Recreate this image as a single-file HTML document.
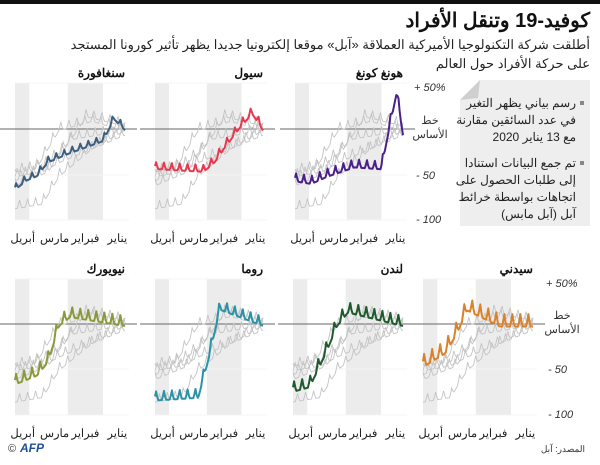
<!DOCTYPE html>
<html><head><meta charset="utf-8"><style>
body{margin:0;background:#fff;width:600px;height:460px;overflow:hidden;font-family:"Liberation Sans","Noto Sans CJK SC",sans-serif}
</style></head><body>
<svg id="s" width="600" height="460" xmlns="http://www.w3.org/2000/svg" font-family="Liberation Sans, Noto Sans CJK SC, sans-serif">
<rect x="0" y="0" width="600" height="4" fill="#111"/>
<text x="590" y="27" text-anchor="end" font-size="20" font-weight="bold" fill="#111">كوفيد-19 وتنقل الأفراد</text>
<text x="590" y="49" text-anchor="end" font-size="13" fill="#222">أطلقت شركة التكنولوجيا الأميركية العملاقة «آبل» موقعا إلكترونيا جديدا يظهر تأثير كورونا المستجد</text>
<text x="590" y="68" text-anchor="end" font-size="13" fill="#222">على حركة الأفراد حول العالم</text>
<path d="M480,80 L590,80 L590,226 L460,226 L460,100 Z" fill="#eeeeee"/>
<path d="M460,100 L480,80 L478,98 Z" fill="#cfcfcf"/>
<g font-size="12" fill="#222" text-anchor="end">
<rect x="580" y="101" width="4" height="4" fill="#888"/>
<text x="576" y="107">رسم بياني يظهر التغير</text>
<text x="576" y="124">في عدد السائقين مقارنة</text>
<text x="576" y="141">مع 13 يناير 2020</text>
<rect x="580" y="161" width="4" height="4" fill="#888"/>
<text x="576" y="167">تم جمع البيانات استنادا</text>
<text x="576" y="184">إلى طلبات الحصول على</text>
<text x="576" y="201">اتجاهات بواسطة خرائط</text>
<text x="576" y="218">آبل (آبل مابس)</text>
</g>
<g id="g"></g>
<text x="585" y="452" text-anchor="end" font-size="9" fill="#333">المصدر: آبل</text>
<text x="8" y="452" font-size="11" fill="#333">©</text>
<text x="20" y="452" font-size="12" font-weight="bold" font-style="italic" fill="#1f4f9a">AFP</text>
</svg>
<script>
var g=document.getElementById('g');var NS='http://www.w3.org/2000/svg';
function el(t,a,txt){var e=document.createElementNS(NS,t);for(var k in a)e.setAttribute(k,a[k]);if(txt!==undefined)e.textContent=txt;g.appendChild(e);return e;}
var prof={
sg:[[0,0],[0.1,12],[0.2,-12],[0.5,-25],[0.7,-35],[0.8,-50],[0.9,-55],[1,-65]],
se:[[0,0],[0.1,18],[0.2,5],[0.35,-18],[0.45,-35],[0.55,-45],[1,-42]],
hk:[[0,-5],[0.06,40],[0.14,-5],[0.2,-42],[0.45,-40],[0.7,-50],[0.85,-58],[1,-55]],
ny:[[0,0],[0.5,10],[0.6,0],[0.7,-40],[0.8,-55],[1,-65]],
ro:[[0,0],[0.4,18],[0.5,-35],[0.6,-80],[1,-83]],
lo:[[0,0],[0.5,15],[0.6,0],[0.7,-30],[0.85,-68],[1,-73]],
sy:[[0,0],[0.3,0],[0.6,18],[0.7,-10],[0.8,-30],[1,-45]]};
var gprof=[[[0,0],[0.3,10],[0.6,0],[0.8,-40],[1,-55]],[[0,0],[0.5,-10],[0.7,-45],[1,-60]],[[0,-5],[0.4,-25],[0.6,-35],[0.75,-45],[1,-50]],[[0,0],[0.3,-20],[0.6,-50],[0.75,-80],[1,-85]],[[0,5],[0.35,15],[0.55,-20],[0.75,-40],[1,-45]]];
function val(p,t){for(var i=1;i<p.length;i++){if(t<=p[i][0]){var a=p[i-1],b=p[i];return a[1]+(b[1]-a[1])*(t-a[0])/(b[0]-a[0]);}}return p[p.length-1][1];}
function path(p,x0,x1,base,sc,amp,ph){var N=96,d='';for(var i=0;i<=N;i++){var t=i/N;var day=i+ph;var w=day%7;var osc=(w==0?1:(w==1?0.3:(w==6?0.2:-0.25)));var v=val(p,t)+amp*osc;var x=x1-(x1-x0)*t;var y=base-v*sc;d+=(i?'L':'M')+x.toFixed(1)+','+y.toFixed(1);}return d;}
function panel(x0,x1,top,base,m50,bot,name,key,col,amp){
 var w=x1-x0;
 el('rect',{x:x0,y:top,width:w*0.13,height:bot-top,fill:'#ececec'});
 el('rect',{x:x0+w*0.48,y:top,width:w*0.32,height:bot-top,fill:'#ececec'});
 var sc=(m50-base)/50;
 [top,m50,bot].forEach(function(y){el('line',{x1:x0,x2:x1+4,y1:y,y2:y,stroke:'#f4f4f4','stroke-width':1});});
 el('line',{x1:x0-15,x2:x1+12,y1:base,y2:base,stroke:'#666','stroke-width':1});
 gprof.forEach(function(p,i){el('path',{d:path(p,x0,x1,base,sc,7,i*2),fill:'none',stroke:'#c4c4c4','stroke-width':0.9});});
 el('path',{d:path(prof[key],x0,x1,base,sc,amp,3),fill:'none',stroke:col,'stroke-width':2,'stroke-linejoin':'round'});
 el('text',{x:x1,y:top-6,'text-anchor':'end','font-size':12,'font-weight':'bold',fill:'#111'},name);
 var ly=bot+22;
 [['يناير',0.93],['فبراير',0.64],['مارس',0.36],['أبريل',0.07]].forEach(function(m){el('text',{x:x0+w*m[1],y:ly,'text-anchor':'middle','font-size':11.5,fill:'#222'},m[0]);});
}
function axisLabels(x,top,base,m50,bot){
 el('text',{x:x,y:top+4,'font-size':11,'font-style':'italic',fill:'#333'},'+ 50%');
 el('text',{x:x+16,y:base-5,'text-anchor':'middle','font-size':11,fill:'#333'},'خط');
 el('text',{x:x+16,y:base+9,'text-anchor':'middle','font-size':11,fill:'#333'},'الأساس');
 el('text',{x:x+2,y:m50+4,'font-size':11,'font-style':'italic',fill:'#333'},'- 50');
 el('text',{x:x+2,y:bot+3,'font-size':11,'font-style':'italic',fill:'#333'},'- 100');
}
var T=[83,129,175,220],B=[279,324,369,415];
panel(15,125,T[0],T[1],T[2],T[3],'سنغافورة','sg','#3d5f7e',5);
panel(155,263,T[0],T[1],T[2],T[3],'سيول','se','#e8384f',6);
panel(295,403,T[0],T[1],T[2],T[3],'هونغ كونغ','hk','#4b1f8a',7);
axisLabels(414,T[0]+4,T[1],T[2],T[3]);
panel(15,125,B[0],B[1],B[2],B[3],'نيويورك','ny','#8a9a3a',9);
panel(155,263,B[0],B[1],B[2],B[3],'روما','ro','#2b93a8',8);
panel(293,403,B[0],B[1],B[2],B[3],'لندن','lo','#1f5a2c',9);
panel(423,533,B[0],B[1],B[2],B[3],'سيدني','sy','#d9822b',11);
axisLabels(546,B[0]+4,B[1],B[2],B[3]);
</script>
</body></html>
